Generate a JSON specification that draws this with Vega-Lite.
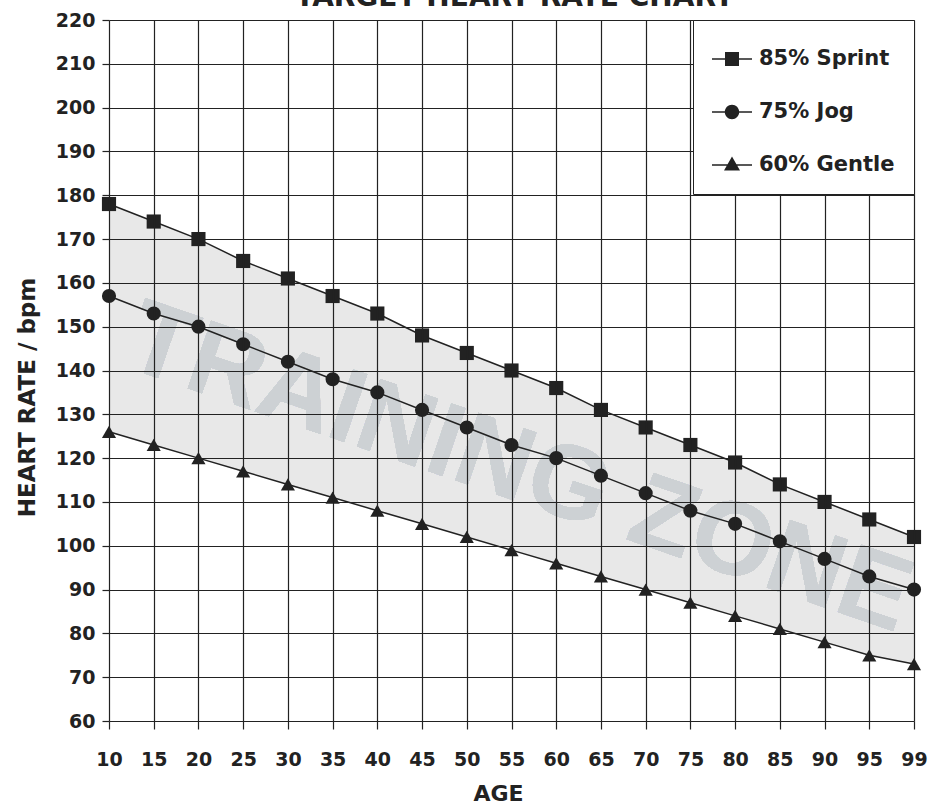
{
  "$schema": "https://vega.github.io/schema/vega-lite/v6.json",
  "width": 805,
  "height": 701,
  "autosize": {"type": "none"},
  "padding": {"left": 109, "top": 20, "right": 32, "bottom": 85},
  "background": "white",
  "data": {
    "values": [
      {"age": 10, "sprint": 178, "jog": 157, "gentle": 126},
      {"age": 15, "sprint": 174, "jog": 153, "gentle": 123},
      {"age": 20, "sprint": 170, "jog": 150, "gentle": 120},
      {"age": 25, "sprint": 165, "jog": 146, "gentle": 117},
      {"age": 30, "sprint": 161, "jog": 142, "gentle": 114},
      {"age": 35, "sprint": 157, "jog": 138, "gentle": 111},
      {"age": 40, "sprint": 153, "jog": 135, "gentle": 108},
      {"age": 45, "sprint": 148, "jog": 131, "gentle": 105},
      {"age": 50, "sprint": 144, "jog": 127, "gentle": 102},
      {"age": 55, "sprint": 140, "jog": 123, "gentle": 99},
      {"age": 60, "sprint": 136, "jog": 120, "gentle": 96},
      {"age": 65, "sprint": 131, "jog": 116, "gentle": 93},
      {"age": 70, "sprint": 127, "jog": 112, "gentle": 90},
      {"age": 75, "sprint": 123, "jog": 108, "gentle": 87},
      {"age": 80, "sprint": 119, "jog": 105, "gentle": 84},
      {"age": 85, "sprint": 114, "jog": 101, "gentle": 81},
      {"age": 90, "sprint": 110, "jog": 97, "gentle": 78},
      {"age": 95, "sprint": 106, "jog": 93, "gentle": 75},
      {"age": 99, "sprint": 102, "jog": 90, "gentle": 73}
    ]
  },
  "layer": [
    {
      "mark": {"type": "area", "color": "#e8e8e8", "opacity": 1},
      "encoding": {
        "x": {
          "field": "age",
          "type": "ordinal",
          "scale": {"type": "point", "padding": 0},
          "axis": {
            "orient": "top",
            "title": "TARGET HEART RATE CHART",
            "labels": false,
            "ticks": false,
            "grid": false,
            "domain": false,
            "titleFont": "DejaVu Sans",
            "titleFontSize": 28,
            "titleFontWeight": "bold",
            "titleColor": "#222222",
            "titleBaseline": "alphabetic",
            "titleAnchor": "middle",
            "titleY": -15,
            "titleX": 405,
            "zindex": 1
          }
        },
        "y": {
          "field": "sprint",
          "type": "quantitative",
          "scale": {"domain": [60, 220], "nice": false, "zero": false},
          "axis": {
            "title": "HEART RATE / bpm",
            "titleY": 377,
            "values": [60, 70, 80, 90, 100, 110, 120, 130, 140, 150, 160, 170, 180, 190, 200, 210, 220],
            "grid": true,
            "gridColor": "#222222",
            "gridWidth": 1.2,
            "gridOpacity": 1,
            "domain": false,
            "tickColor": "#222222",
            "tickWidth": 1.2,
            "tickSize": 7,
            "labelFont": "DejaVu Sans",
            "labelFontSize": 19,
            "labelFontWeight": "bold",
            "labelColor": "#222222",
            "labelPadding": 7,
            "titleFont": "DejaVu Sans",
            "titleFontSize": 23,
            "titleFontWeight": "bold",
            "titleColor": "#222222",
            "titlePadding": 16,
            "zindex": 1
          }
        },
        "y2": {"field": "gentle"}
      }
    },
    {
      "mark": {
        "type": "text",
        "text": "TRAINING ZONE",
        "font": "Liberation Sans",
        "fontWeight": "bold",
        "fontSize": 104,
        "color": "#cdd1d4",
        "angle": 19,
        "align": "center",
        "baseline": "middle",
        "dx": 8
      },
      "encoding": {
        "x": {"datum": 55, "type": "ordinal", "axis": null},
        "y": {"datum": 118, "type": "quantitative"}
      }
    },
    {
      "transform": [{"fold": ["sprint", "jog", "gentle"], "as": ["series", "hr"]}],
      "mark": {"type": "line", "color": "#222222", "strokeWidth": 1.5},
      "encoding": {
        "x": {
          "field": "age",
          "type": "ordinal",
          "axis": {
            "orient": "bottom",
            "title": "AGE",
            "titleX": 389,
            "labelAngle": 0,
            "grid": true,
            "gridColor": "#222222",
            "gridWidth": 1.2,
            "gridOpacity": 1,
            "domain": false,
            "tickColor": "#222222",
            "tickWidth": 1.2,
            "tickSize": 8,
            "labelFont": "DejaVu Sans",
            "labelFontSize": 19,
            "labelFontWeight": "bold",
            "labelColor": "#222222",
            "labelPadding": 21,
            "titleFont": "DejaVu Sans",
            "titleFontSize": 22,
            "titleFontWeight": "bold",
            "titleColor": "#222222",
            "titlePadding": 14,
            "zindex": 1
          }
        },
        "y": {"field": "hr", "type": "quantitative"},
        "detail": {"field": "series", "type": "nominal"}
      }
    },
    {
      "transform": [{"fold": ["sprint", "jog", "gentle"], "as": ["series", "hr"]}],
      "mark": {"type": "point", "filled": true, "color": "#222222", "opacity": 1, "size": 200},
      "encoding": {
        "x": {"field": "age", "type": "ordinal", "axis": null},
        "y": {"field": "hr", "type": "quantitative"},
        "shape": {
          "field": "series",
          "type": "nominal",
          "scale": {"domain": ["sprint", "jog", "gentle"], "range": ["square", "circle", "triangle-up"]},
          "legend": null
        }
      }
    },
    {
      "transform": [{"fold": ["sprint", "jog", "gentle"], "as": ["series", "hr"]}],
      "mark": {"type": "point", "filled": true, "color": "#222222", "opacity": 0},
      "encoding": {
        "x": {"field": "age", "type": "ordinal", "axis": null},
        "y": {"field": "hr", "type": "quantitative"},
        "shape": {
          "field": "series",
          "type": "nominal",
          "scale": {
            "domain": ["sprint", "jog", "gentle"],
            "range": [
              "M-1,-0.04H1V0.04H-1ZM-0.35,-0.35H0.35V0.35H-0.35Z",
              "M-1,-0.04H1V0.04H-1ZM0.36,0A0.36,0.36 0 1,1 -0.36,0A0.36,0.36 0 1,1 0.36,0Z",
              "M-1,-0.04H1V0.04H-1ZM0,-0.42L0.4,0.28L-0.4,0.28Z"
            ]
          },
          "legend": {
            "title": null,
            "orient": "top-right",
            "offset": 0,
            "fillColor": "white",
            "strokeColor": "#222222",
            "padding": 19,
            "rowPadding": 23,
            "symbolSize": 1600,
            "symbolFillColor": "#222222",
            "symbolStrokeColor": "#222222",
            "symbolStrokeWidth": 0,
            "symbolOpacity": 1,
            "symbolOffset": 0,
            "labelFont": "DejaVu Sans",
            "labelFontSize": 21,
            "labelFontWeight": "bold",
            "labelColor": "#222222",
            "labelOffset": 7,
            "labelExpr": "{'sprint': '85% Sprint', 'jog': '75% Jog', 'gentle': '60% Gentle'}[datum.label]",
            "zindex": 2
          }
        }
      }
    }
  ],
  "resolve": {
    "scale": {"shape": "independent"},
    "legend": {"shape": "independent"},
    "axis": {"x": "independent"}
  },
  "config": {"view": {"stroke": null}}
}
